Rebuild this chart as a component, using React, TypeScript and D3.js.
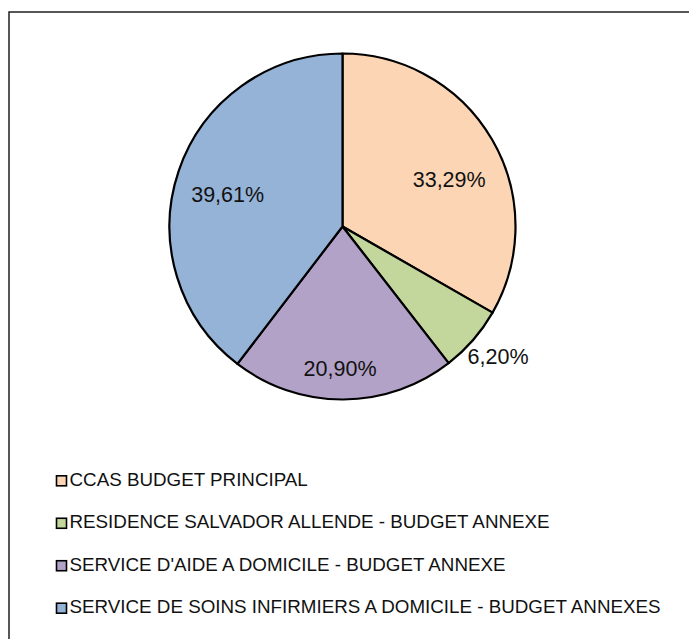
import * as d3 from "d3";
import React from "react";

// budget shares (percent), clockwise from 12 o'clock
const categories = [
  "CCAS BUDGET PRINCIPAL",
  "RESIDENCE SALVADOR ALLENDE - BUDGET ANNEXE",
  "SERVICE D'AIDE A DOMICILE - BUDGET ANNEXE",
  "SERVICE DE SOINS INFIRMIERS A DOMICILE - BUDGET ANNEXES",
];
const shares = [33.29, 6.2, 20.9, 39.61];
const labels = ["33,29%", "6,20%", "20,90%", "39,61%"];
const colors = ["#FCD5B5", "#C3D69B", "#B3A2C7", "#95B3D7"];
// label placement: fraction of the radius, and nudge off the slice middle (degrees)
const labelRadius = [0.674, 1.172, 0.818, 0.69];
const labelNudge = [6.3, -1.1, 1.2, -2.9];

const width = 689;
const height = 639;
const cx = 342.5;
const cy = 226.5;
const radius = 173;

export default function App() {
  const pie = d3.pie<number>().sort(null).value((d) => d);
  const arcs = pie(shares);
  const arc = d3.arc<d3.PieArcDatum<number>>().innerRadius(0).outerRadius(radius);

  const legendY = d3
    .scalePoint<number>()
    .domain(d3.range(categories.length))
    .range([479.3, 606.7]);

  return (
    <svg
      width={width}
      height={height}
      style={{ position: "absolute", left: 0, top: 0, background: "#fff" }}
      fontFamily="'Liberation Sans', Arial, sans-serif"
    >
      <rect x={9} y={12} width={700} height={700} fill="#fff" stroke="#111" strokeWidth={1.4} />
      <g transform={`translate(${cx},${cy})`}>
        {arcs.map((a, i) => (
          <path key={i} d={arc(a) || ""} fill={colors[i]} stroke="#000" strokeWidth={2.2} strokeLinejoin="round" />
        ))}
        {arcs.map((a, i) => {
          const r = radius * labelRadius[i];
          const shift = (labelNudge[i] * Math.PI) / 180;
          const c = d3
            .arc()
            .innerRadius(r)
            .outerRadius(r)
            .startAngle(a.startAngle + shift)
            .endAngle(a.endAngle + shift)
            .centroid({} as any);
          return (
            <text key={i} x={c[0]} y={c[1]} dy="0.35em" textAnchor="middle" fontSize={21.5} fill="#111">
              {labels[i]}
            </text>
          );
        })}
      </g>
      <g>
        {categories.map((name, i) => (
          <g key={i} transform={`translate(0,${legendY(i)})`}>
            <rect x={56.5} y={-3.5} width={10} height={10} fill={colors[i]} stroke="#000" strokeWidth={1.6} />
            <text x={69.5} y={0} dy="0.35em" fontSize={18.8} fill="#111">
              {name}
            </text>
          </g>
        ))}
      </g>
    </svg>
  );
}
